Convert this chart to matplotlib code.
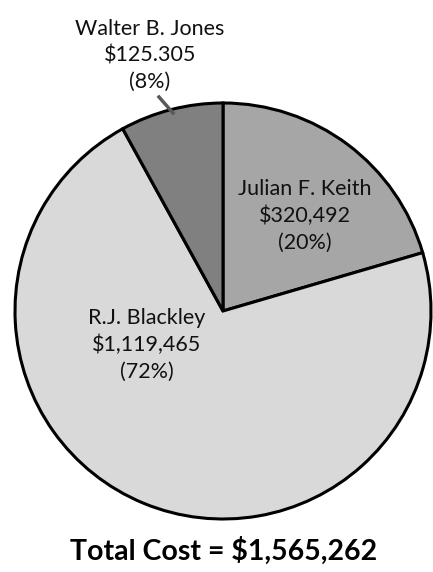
import matplotlib
matplotlib.use('Agg')
import matplotlib.pyplot as plt
from matplotlib.lines import Line2D

names = ['Julian F. Keith', 'R.J. Blackley', 'Walter B. Jones']
costs = [320492, 1119465, 125305]
cost_labels = ['$320,492', '$1,119,465', '$125.305']
pct_labels = ['(20%)', '(72%)', '(8%)']
colors = ['#a6a6a6', '#d9d9d9', '#808080']
total_label = 'Total Cost = $1,565,262'

plt.rcParams['font.family'] = ['Lato', 'DejaVu Sans']

W, H = 433, 572
fig = plt.figure(figsize=(W / 100, H / 100), dpi=100)

# pie centre and radius in pixels (from top-left)
cx, cy, r = 223, 311, 208
ax = fig.add_axes([(cx - r) / W, (H - cy - r) / H, 2 * r / W, 2 * r / H])
ax.pie(costs, colors=colors, startangle=90, counterclock=False,
       wedgeprops=dict(edgecolor='black', linewidth=2.2))
ax.set_xlim(-1, 1)
ax.set_ylim(-1, 1)
ax.set_aspect('equal')
ax.axis('off')

# label centres in pixels
label_pos = [(305, 216), (147, 345), (150, 55)]
for i in range(3):
    px, py = label_pos[i]
    fig.text(px / W, 1 - py / H, names[i] + '\n' + cost_labels[i] + '\n' + pct_labels[i],
             ha='center', va='center', fontsize=15.5, linespacing=1.4, color='#111111')

# leader line for the small slice
fig.add_artist(Line2D([159 / W, 173 / W], [1 - 97 / H, 1 - 113 / H],
                      transform=fig.transFigure, color='#595959', linewidth=2.5))

fig.text(224 / W, 1 - 551 / H, total_label, ha='center', va='center',
         fontsize=20.5, fontweight='bold', color='black')

fig.savefig('out.png', dpi=100, facecolor='white')
